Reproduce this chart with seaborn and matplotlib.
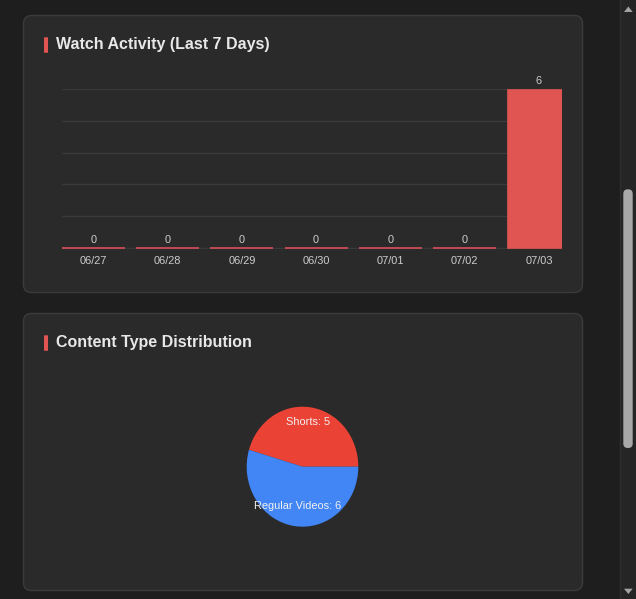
import matplotlib
matplotlib.use("Agg")
import matplotlib.pyplot as plt
from matplotlib.patches import FancyBboxPatch, Polygon
import numpy as np
import pandas as pd
import seaborn as sns

# ---- data ----
days = ["06/27", "06/28", "06/29", "06/30", "07/01", "07/02", "07/03"]
watch_counts = [0, 0, 0, 0, 0, 0, 6]
content_types = ["Shorts", "Regular Videos"]
content_counts = [5, 6]
y_grid_ticks = [0, 1.2, 2.4, 3.6, 4.8, 6.0]

# ---- style ----
sns.set_theme(style="dark")
plt.rcParams["font.family"] = ["Liberation Sans", "DejaVu Sans"]

BG = "#1e1e1e"
PANEL = "#2a2a2a"
PANEL_EDGE = "#3b3b3b"
ACCENT = "#e05552"
BAR = "#e05552"
ZERO_LINE = "#c04a55"
GRID = "#3a3a3a"
TXT = "#cccccc"
TITLE = "#e8e8e8"
PIE_COLORS = ["#ea4335", "#4285f4"]

W, H = 636, 599
fig = plt.figure(figsize=(W / 100, H / 100), dpi=100, facecolor=BG)

def px_axes(x0, y0, x1, y1, **kw):
    return fig.add_axes([x0 / W, 1 - y1 / H, (x1 - x0) / W, (y1 - y0) / H], **kw)

# background canvas in pixel coordinates
bg = px_axes(0, 0, W, H)
bg.set_xlim(0, W)
bg.set_ylim(H, 0)
bg.axis("off")
bg.set_zorder(-10)
bg.patch.set_alpha(0)

# panels
for (y0, y1) in [(15.5, 292.5), (313.5, 590.5)]:
    bg.add_patch(FancyBboxPatch((23.5 + 8, y0 + 8), 559 - 16, (y1 - y0) - 16,
                                boxstyle="round,pad=8", fc=PANEL, ec=PANEL_EDGE, lw=1))

# accent bars + titles
for yoff, title in [(0, "Watch Activity (Last 7 Days)"), (298, "Content Type Distribution")]:
    bg.add_patch(FancyBboxPatch((44.5, 37.8 + yoff), 3, 14.5,
                                boxstyle="round,pad=0.5", fc=ACCENT, ec="none"))
    bg.text(56, 49.5 + yoff, title, ha="left", va="baseline", fontsize=11.52,
            fontweight="bold", color=TITLE)

# scrollbar
bg.add_patch(plt.Rectangle((619.5, 0), 16.5, H, fc="#252525", ec="none"))
bg.plot([619.5, 619.5], [0, H], color="#2e2e2e", lw=1)
bg.add_patch(FancyBboxPatch((623.3 + 4.5, 189.3 + 4.5), 9.4 - 9, 258.7 - 9,
                            boxstyle="round,pad=4.5", fc="#a8a8a8", ec="none"))
bg.add_patch(Polygon([[624, 12], [632.7, 12], [628.35, 6.5]], closed=True, fc="#a3a3a3", ec="none"))
bg.add_patch(Polygon([[624, 588.7], [632.7, 588.7], [628.35, 594]], closed=True, fc="#a3a3a3", ec="none"))

# ---- bar chart ----
df_bar = pd.DataFrame({"day": days, "count": watch_counts})
ax = px_axes(62, 89, 562, 249)
ax.patch.set_alpha(0)
sns.barplot(data=df_bar, x="day", y="count", color=BAR, saturation=1, width=0.85,
            ax=ax, zorder=3, errorbar=None)
for p in ax.patches:
    if p.get_height() == 0:
        p.set_edgecolor(ZERO_LINE)
        p.set_facecolor(ZERO_LINE)
        p.set_linewidth(1.4)
    else:
        p.set_edgecolor(BAR)
        p.set_linewidth(0.5)
ax.set_xlim(-0.421, 6.31)
ax.set_ylim(-0.0377, 6)
ax.set_yticks(y_grid_ticks)
ax.set_yticklabels([])
ax.grid(axis="y", color=GRID, lw=1, zorder=0)
ax.grid(axis="x", visible=False)
for s in ax.spines.values():
    s.set_visible(False)
ax.set_xlabel("")
ax.set_ylabel("")
ax.tick_params(axis="x", length=0, pad=4.8, labelsize=7.92, labelcolor=TXT)
ax.tick_params(axis="y", length=0)
for cont in ax.containers:
    labels = ax.bar_label(cont, fmt="%d", padding=2.2, fontsize=7.92, color=TXT)
    for t in labels:
        t.set_clip_on(False)

# ---- pie chart ----
pax = px_axes(246.7, 406.7, 358.3, 526.7)
wedges, _ = pax.pie(content_counts, colors=PIE_COLORS, startangle=0, counterclock=True,
                    wedgeprops=dict(linewidth=0))
pax.set_aspect("auto")
pax.set_xlim(-1, 1)
pax.set_ylim(-1, 1)
pax.axis("off")
label_dist = [0.76, 0.66]
for w, name, val, d in zip(wedges, content_types, content_counts, label_dist):
    ang = np.deg2rad((w.theta1 + w.theta2) / 2)
    pax.text(d * np.cos(ang), d * np.sin(ang), f"{name}: {val}", ha="center", va="center",
             fontsize=7.92, color="#f0f0f0", clip_on=False)

fig.savefig("out.png", dpi=100, facecolor=BG)
